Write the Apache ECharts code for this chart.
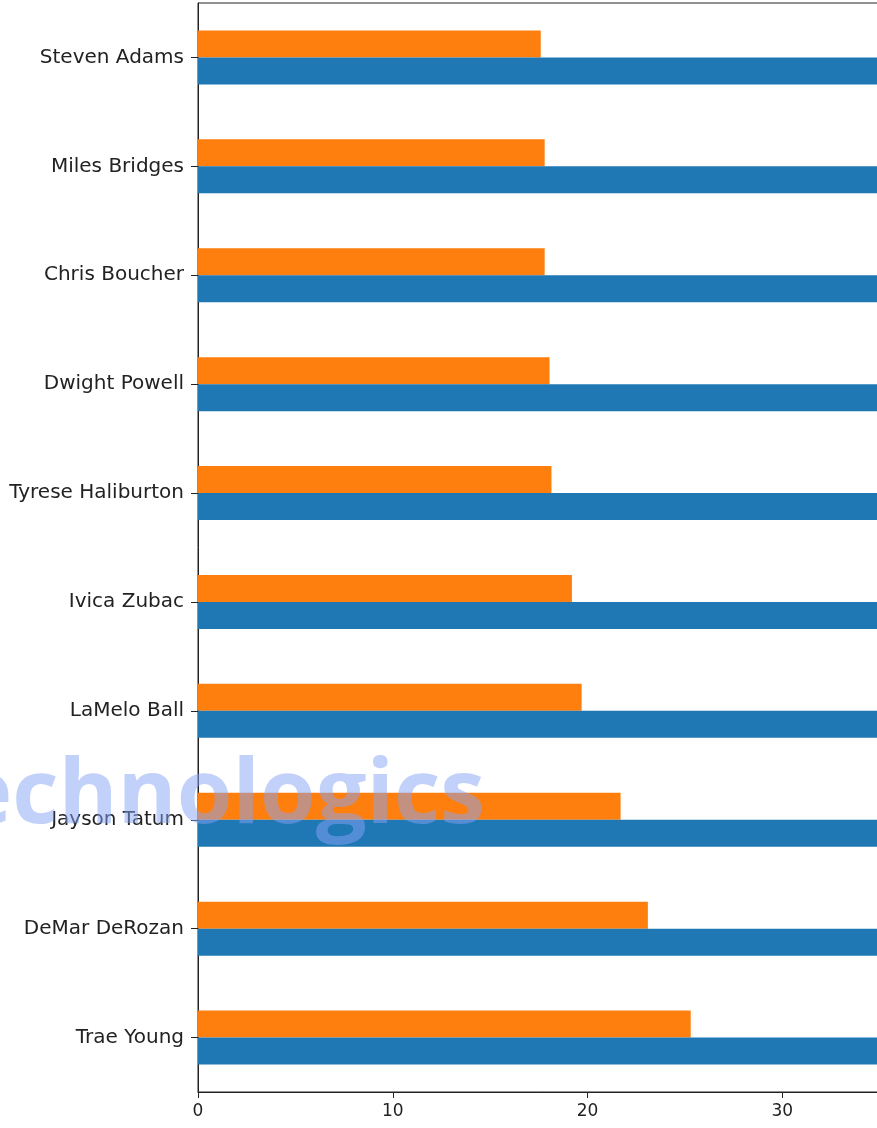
<!DOCTYPE html>
<html>
<head>
<meta charset="utf-8">
<script src="https://cdn.jsdelivr.net/npm/echarts@6/dist/echarts.min.js"></script>
<style>
  html, body { margin: 0; padding: 0; background: #fff; }
  #chart { width: 877px; height: 1128px; }
</style>
</head>
<body>
<div id="chart"></div>
<script>
// players, bottom to top
const players = ['Trae Young', 'DeMar DeRozan', 'Jayson Tatum', 'LaMelo Ball', 'Ivica Zubac',
  'Tyrese Haliburton', 'Dwight Powell', 'Chris Boucher', 'Miles Bridges', 'Steven Adams'];
// blue bars run past the right edge of the picture, so these are only estimates
const blueValues = [36, 36, 36, 36, 36, 36, 36, 36, 36, 36];
const orangeValues = [25.3, 23.1, 21.7, 19.7, 19.2, 18.15, 18.05, 17.8, 17.8, 17.6];
const xTicks = [0, 10, 20, 30, 40];

const chart = echarts.init(document.getElementById('chart'));

const option = {
  animation: false,
  backgroundColor: '#ffffff',
  grid: {
    left: 198,
    top: 3,
    width: 779,   // runs off the canvas, the plot is cropped on the right
    height: 1089,
    outerBoundsMode: 'none',
    containLabel: false,
    show: true,
    borderColor: '#222',
    borderWidth: 1,
    backgroundColor: 'transparent'
  },
  xAxis: {
    type: 'value',
    min: xTicks[0],
    max: xTicks[xTicks.length - 1],
    interval: 10,
    splitLine: { show: false },
    axisLine: { show: true, lineStyle: { color: '#222', width: 1 } },
    axisTick: { show: true, length: 6, lineStyle: { color: '#222' } },
    axisLabel: {
      color: '#222',
      fontFamily: 'DejaVu Sans',
      fontSize: 17,
      margin: 11
    }
  },
  yAxis: {
    type: 'category',
    data: players,
    axisLine: { show: true, lineStyle: { color: '#222', width: 1 } },
    axisTick: { show: true, alignWithLabel: true, length: 7, lineStyle: { color: '#222' } },
    axisLabel: {
      color: '#222',
      fontFamily: 'DejaVu Sans',
      fontSize: 20,
      margin: 14
    }
  },
  series: [
    {
      // first series sits on top inside each category
      name: 'orange',
      type: 'bar',
      data: orangeValues,
      barWidth: 27,
      barGap: '0%',
      itemStyle: { color: '#ff7f0e' }
    },
    {
      name: 'blue',
      type: 'bar',
      data: blueValues,
      barWidth: 27,
      barGap: '0%',
      itemStyle: { color: '#1f77b4' }
    }
  ],
  graphic: [
    {
      // watermark across the chart, left part is cut off
      type: 'text',
      right: 877 - 485,
      top: 752,
      z: 100,
      style: {
        text: 'technologics',
        fontFamily: 'Open Sans',
        fontWeight: 'bold',
        fontSize: 90,
        fill: 'rgba(133, 163, 246, 0.5)'
      }
    }
  ]
};

chart.setOption(option);
</script>
</body>
</html>
